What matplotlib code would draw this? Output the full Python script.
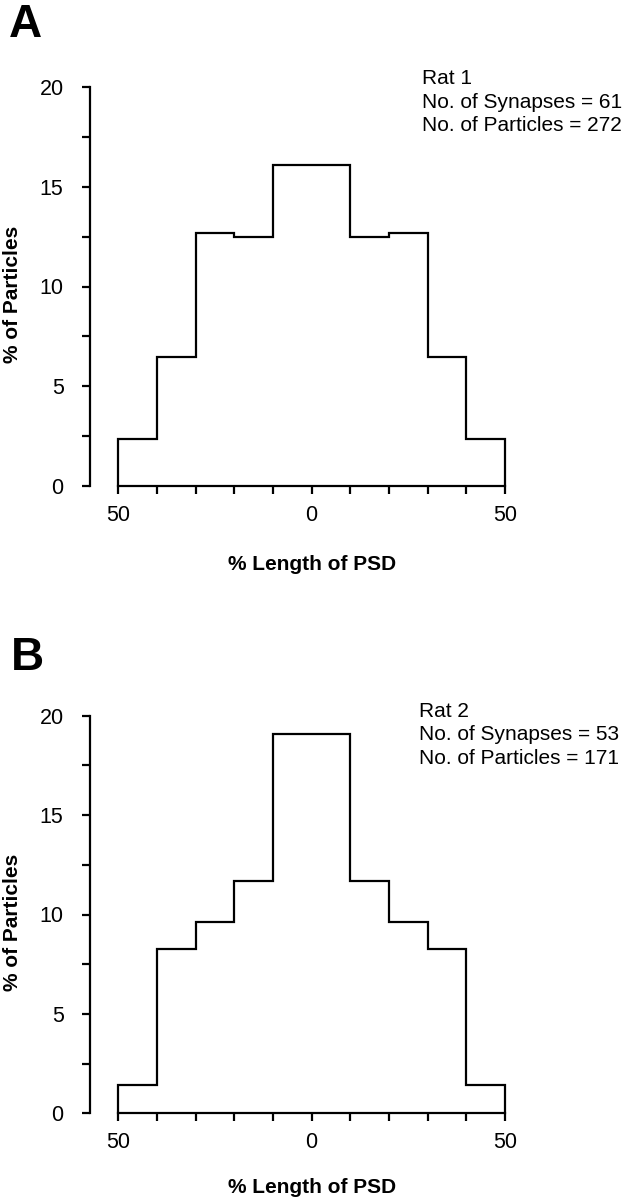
import matplotlib
matplotlib.use("Agg")
import matplotlib.pyplot as plt
import numpy as np

plt.rcParams['font.family'] = ['Liberation Sans', 'DejaVu Sans']

# ---- data ----
bin_edges = [-50, -40, -30, -20, -10, 0, 10, 20, 30, 40, 50]
rat1_pct = [2.35, 6.46, 12.67, 12.50, 16.10, 16.10, 12.50, 12.67, 6.46, 2.35]
rat2_pct = [1.40, 8.28, 9.60, 11.69, 19.08, 19.08, 11.69, 9.60, 8.28, 1.40]
panel_letters = ["A", "B"]
info_texts = ["Rat 1\nNo. of Synapses = 61\nNo. of Particles = 272",
              "Rat 2\nNo. of Synapses = 53\nNo. of Particles = 171"]
y_major = [0, 5, 10, 15, 20]
y_minor = [2.5, 7.5, 12.5, 17.5]
x_major = [-50, 0, 50]
x_major_labels = ["50", "0", "50"]
x_minor = [-40, -30, -20, -10, 10, 20, 30, 40]

W, H = 630, 1199
fig = plt.figure(figsize=(W / 100, H / 100), dpi=100)

# axes placement in pixels: (left, top, right, bottom)
boxes = [(118.3, 87.0, 505.0, 486.0), (118.3, 715.7, 505.0, 1113.3)]
letter_pos = [(9, 3), (11, 636)]
info_pos = [(422, 69), (419, 702)]
xlabel_pads = [21, 18]
series = [rat1_pct, rat2_pct]

lw = 1.6
for i in range(2):
    l, t, r, b = boxes[i]
    ax = fig.add_axes([l / W, 1 - b / H, (r - l) / W, (b - t) / H])
    ax.stairs(series[i], bin_edges, baseline=0, color='black', lw=lw,
              clip_on=False, zorder=3)
    ax.set_xlim(-50, 50)
    ax.set_ylim(0, 20)
    for s in ['top', 'right']:
        ax.spines[s].set_visible(False)
    ax.spines['left'].set_position(('outward', 20.4))
    ax.spines['left'].set_bounds(0, 20)
    ax.spines['bottom'].set_bounds(-50, 50)
    for s in ['left', 'bottom']:
        ax.spines[s].set_linewidth(lw)
    ax.set_yticks(y_major)
    ax.set_yticks(y_minor, minor=True)
    ax.set_xticks(x_major)
    ax.set_xticklabels(x_major_labels)
    ax.set_xticks(x_minor, minor=True)
    ax.tick_params(axis='y', which='both', length=6, width=lw, direction='out',
                   pad=13.0, labelsize=15.5)
    ax.tick_params(axis='x', which='both', length=5.8, width=lw, direction='out',
                   pad=8.0, labelsize=15.5)
    ax.set_xlabel("% Length of PSD", fontsize=15, fontweight='bold',
                  labelpad=xlabel_pads[i])
    ax.set_ylabel("% of Particles", fontsize=15, fontweight='bold')
    ax.yaxis.set_label_coords(-(l - 13) / (r - l), 0.48)
    ax.yaxis.label.set_verticalalignment('center')
    tx, ty = info_pos[i]
    fig.text(tx / W, 1 - ty / H, info_texts[i], ha='left', va='top',
             fontsize=15, linespacing=1.3)
    lx, ly = letter_pos[i]
    fig.text(lx / W, 1 - ly / H, panel_letters[i], fontsize=33,
             fontweight='bold', ha='left', va='top')

fig.savefig("out.png", dpi=100)
